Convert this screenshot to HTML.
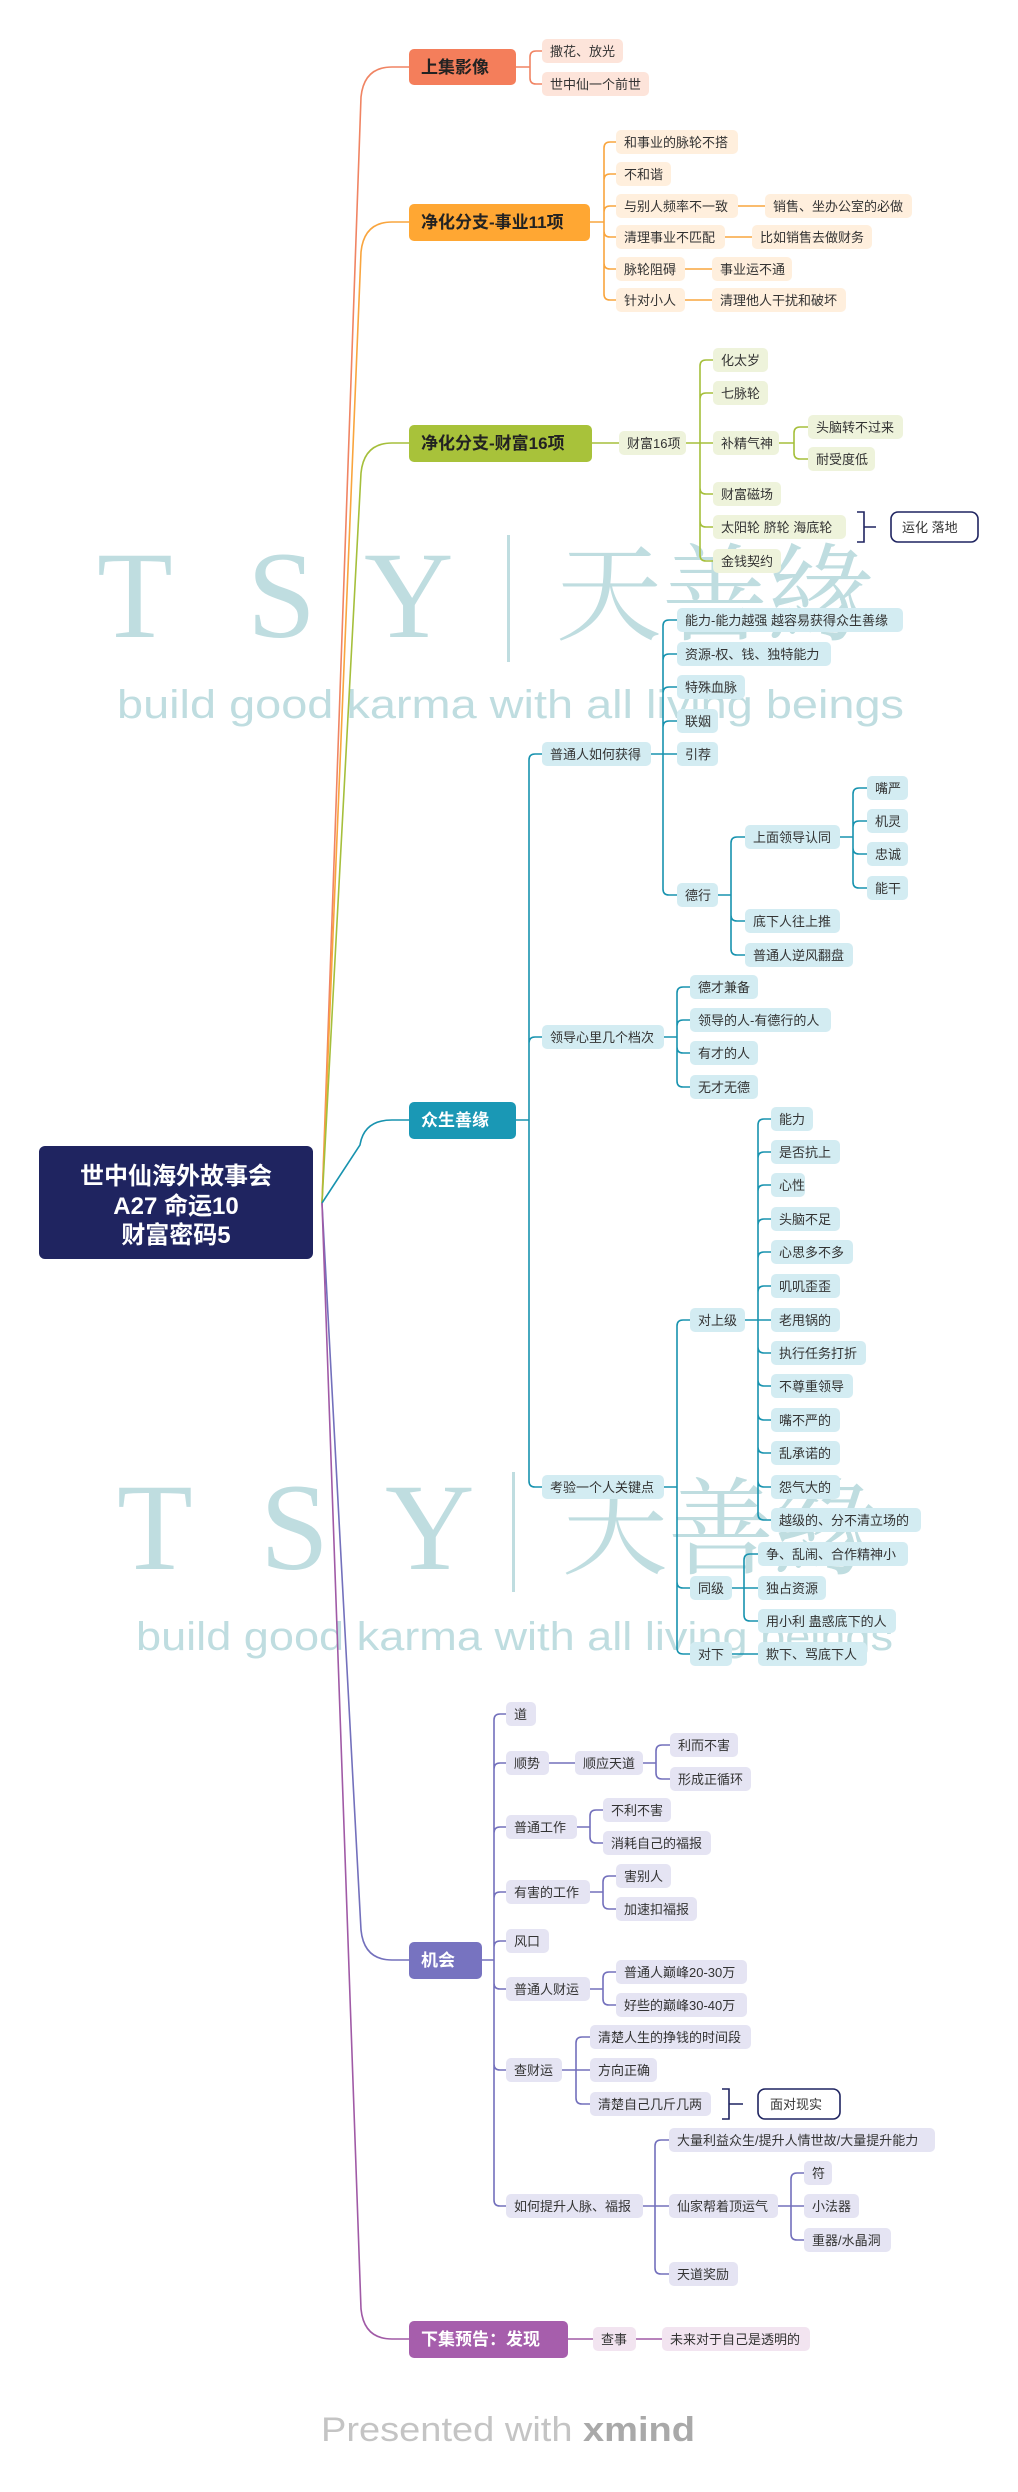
<!DOCTYPE html>
<html><head><meta charset="utf-8"><style>
html,body{margin:0;padding:0;background:#fff;}
svg{display:block;}
text{font-family:"Liberation Sans","Noto Sans CJK SC",sans-serif;}
.c{font-size:13px;fill:#333;}
.m{font-size:17px;font-weight:bold;}
.wm{fill:#bfdde0;}
</style></head><body>
<svg width="1018" height="2492" viewBox="0 0 1018 2492" xmlns="http://www.w3.org/2000/svg">
<!-- watermarks -->
<g class="wm">
<text x="97" y="637" style="font-family:'Liberation Serif',serif;font-size:124px">T</text>
<text x="247" y="637" style="font-family:'Liberation Serif',serif;font-size:124px">S</text>
<text x="364" y="637" style="font-family:'Liberation Serif',serif;font-size:124px">Y</text>
<rect x="507" y="535" width="3" height="127"/>
<text x="556" y="632" style="font-family:'Noto Serif CJK SC',serif;font-size:106px">天善緣</text>
<text x="117" y="718" textLength="787" lengthAdjust="spacingAndGlyphs" style="font-size:40px">build good karma with all living beings</text>
<text x="117" y="1569" style="font-family:'Liberation Serif',serif;font-size:124px">T</text>
<text x="260" y="1569" style="font-family:'Liberation Serif',serif;font-size:124px">S</text>
<text x="385" y="1569" style="font-family:'Liberation Serif',serif;font-size:124px">Y</text>
<rect x="512" y="1472" width="3" height="120"/>
<text x="562" y="1566" style="font-family:'Noto Serif CJK SC',serif;font-size:106px">天善緣</text>
<text x="136" y="1650" textLength="757" lengthAdjust="spacingAndGlyphs" style="font-size:40px">build good karma with all living beings</text>
</g>

<g fill="none" stroke-width="1.6">
<!-- trunk -->
<path stroke="#F08463" d="M322 1203 L361 97 Q364 67 392 67 H409"/>
<path stroke="#F9A53E" d="M322 1203 L361 252 Q364 222 392 222 H409"/>
<path stroke="#A5BF3B" d="M322 1203 L361 473 Q364 443 392 443 H409"/>
<path stroke="#1893AF" d="M322 1203 L360 1145 Q364 1120 392 1120 H409"/>
<path stroke="#7370BC" d="M322 1203 L361 1930 Q364 1960 392 1960 H409"/>
<path stroke="#A05AA6" d="M322 1203 L361 2309 Q364 2339 392 2339 H409"/>

<path stroke="#F08463" d="M516 67 H530 M530 67 V57 Q530 51 536 51 H542 M530 67 V78 Q530 84 536 84 H542"/>

<path stroke="#F9A53E" d="M590 222 H604 M604 222 V148 Q604 142 610 142 H616 M604 222 V180 Q604 174 610 174 H616 M604 222 V212 Q604 206 610 206 H616 M604 222 V231 Q604 237 610 237 H616 M604 222 V263 Q604 269 610 269 H616 M604 222 V294 Q604 300 610 300 H616 M738 206 H765 M725 237 H752 M685 269 H712 M685 300 H712"/>

<path stroke="#A5BF3B" d="M592 443 H619 M686 443 H700 M700 443 V366 Q700 360 706 360 H713 M700 443 V399 Q700 393 706 393 H713 M700 443 H713 M700 443 V488 Q700 494 706 494 H713 M700 443 V521 Q700 527 706 527 H713 M700 443 V555 Q700 561 706 561 H713 M779 443 H794 M794 443 V433 Q794 427 800 427 H808 M794 443 V453 Q794 459 800 459 H808"/>

<path stroke="#1893AF" d="M516 1120 H529 M529 1120 V760 Q529 754 535 754 H542 M529 1120 V1043 Q529 1037 535 1037 H542 M529 1120 V1481 Q529 1487 535 1487 H542
M651 754 H663 M663 754 V626 Q663 620 669 620 H677 M663 754 V660 Q663 654 669 654 H677 M663 754 V693 Q663 687 669 687 H677 M663 754 V727 Q663 721 669 721 H677 M663 754 H677 M663 754 V889 Q663 895 669 895 H677
M718 895 H731 M731 895 V843 Q731 837 737 837 H745 M731 895 V915 Q731 921 737 921 H745 M731 895 V949 Q731 955 737 955 H745
M840 837 H853 M853 837 V794 Q853 788 859 788 H867 M853 837 V827 Q853 821 859 821 H867 M853 837 V848 Q853 854 859 854 H867 M853 837 V882 Q853 888 859 888 H867
M664 1037 H677 M677 1037 V993 Q677 987 683 987 H690 M677 1037 V1026 Q677 1020 683 1020 H690 M677 1037 V1047 Q677 1053 683 1053 H690 M677 1037 V1081 Q677 1087 683 1087 H690
M664 1487 H677 M677 1487 V1326 Q677 1320 683 1320 H690 M677 1487 V1582 Q677 1588 683 1588 H690 M677 1487 V1648 Q677 1654 683 1654 H690
M745 1320 H758 M758 1320 V1125 Q758 1119 764 1119 H771 M758 1320 V1158 Q758 1152 764 1152 H771 M758 1320 V1191 Q758 1185 764 1185 H771 M758 1320 V1225 Q758 1219 764 1219 H771 M758 1320 V1258 Q758 1252 764 1252 H771 M758 1320 V1292 Q758 1286 764 1286 H771 M758 1320 H771 M758 1320 V1347 Q758 1353 764 1353 H771 M758 1320 V1380 Q758 1386 764 1386 H771 M758 1320 V1414 Q758 1420 764 1420 H771 M758 1320 V1447 Q758 1453 764 1453 H771 M758 1320 V1481 Q758 1487 764 1487 H771 M758 1320 V1514 Q758 1520 764 1520 H771
M732 1588 H744 M744 1588 V1560 Q744 1554 750 1554 H758 M744 1588 H758 M744 1588 V1615 Q744 1621 750 1621 H758 M732 1654 H758"/>

<path stroke="#7370BC" d="M482 1960 H494 M494 1960 V1720 Q494 1714 500 1714 H506 M494 1960 V1769 Q494 1763 500 1763 H506 M494 1960 V1833 Q494 1827 500 1827 H506 M494 1960 V1898 Q494 1892 500 1892 H506 M494 1960 V1947 Q494 1941 500 1941 H506 M494 1960 V1983 Q494 1989 500 1989 H506 M494 1960 V2064 Q494 2070 500 2070 H506 M494 1960 V2200 Q494 2206 500 2206 H506
M549 1763 H575 M643 1763 H656 M656 1763 V1751 Q656 1745 662 1745 H670 M656 1763 V1773 Q656 1779 662 1779 H670
M577 1827 H590 M590 1827 V1816 Q590 1810 596 1810 H603 M590 1827 V1837 Q590 1843 596 1843 H603
M590 1892 H603 M603 1892 V1882 Q603 1876 609 1876 H616 M603 1892 V1903 Q603 1909 609 1909 H616
M590 1989 H603 M603 1989 V1978 Q603 1972 609 1972 H616 M603 1989 V1999 Q603 2005 609 2005 H616
M562 2070 H576 M576 2070 V2043 Q576 2037 582 2037 H590 M576 2070 H590 M576 2070 V2098 Q576 2104 582 2104 H590
M643 2206 H655 M655 2206 V2146 Q655 2140 661 2140 H669 M655 2206 H669 M655 2206 V2268 Q655 2274 661 2274 H669
M778 2206 H791 M791 2206 V2179 Q791 2173 797 2173 H804 M791 2206 H804 M791 2206 V2234 Q791 2240 797 2240 H804"/>

<path stroke="#A05AA6" d="M568 2339 H593 M636 2339 H662"/>
<path stroke="#1F2460" d="M857 512 H864 V542 H857 M864 527 H876 M722 2089 H729 V2119 H722 M729 2104 H743"/>
</g>

<!-- root -->
<rect x="39" y="1146" width="274" height="113" rx="6" fill="#1F2460"/>
<g fill="#fff" font-size="24" text-anchor="middle" font-weight="bold">
<text x="176" y="1184">世中仙海外故事会</text>
<text x="176" y="1214">A27 命运10</text>
<text x="176" y="1243">财富密码5</text>
</g>

<!-- main nodes -->
<rect x="409" y="49" width="107" height="36" rx="5" fill="#F47E5B"/><text class="m" x="421" y="73" fill="#222">上集影像</text>
<rect x="409" y="204" width="181" height="37" rx="5" fill="#FFA733"/><text class="m" x="421" y="228" fill="#222">净化分支-事业11项</text>
<rect x="409" y="425" width="183" height="37" rx="5" fill="#A8C23A"/><text class="m" x="421" y="449" fill="#222">净化分支-财富16项</text>
<rect x="409" y="1102" width="107" height="37" rx="5" fill="#1A98B5"/><text class="m" x="421" y="1126" fill="#fff">众生善缘</text>
<rect x="409" y="1942" width="73" height="37" rx="5" fill="#7773C0"/><text class="m" x="421" y="1966" fill="#fff">机会</text>
<rect x="409" y="2321" width="159" height="37" rx="5" fill="#A65EAC"/><text class="m" x="421" y="2345" fill="#fff">下集预告：发现</text>

<!-- 上集 children -->
<g fill="#FDE4DA">
<rect x="542" y="39" width="81" height="24" rx="5"/><rect x="542" y="72" width="107" height="24" rx="5"/>
</g>
<g class="c"><text x="550" y="56">撒花、放光</text><text x="550" y="89">世中仙一个前世</text></g>

<!-- 事业 -->
<g fill="#FFEFDD">
<rect x="616" y="130" width="122" height="24" rx="5"/><rect x="616" y="162" width="55" height="24" rx="5"/>
<rect x="616" y="194" width="122" height="24" rx="5"/><rect x="616" y="225" width="109" height="24" rx="5"/>
<rect x="616" y="257" width="69" height="24" rx="5"/><rect x="616" y="288" width="69" height="24" rx="5"/>
<rect x="765" y="194" width="147" height="24" rx="5"/><rect x="752" y="225" width="120" height="24" rx="5"/>
<rect x="712" y="257" width="80" height="24" rx="5"/><rect x="712" y="288" width="134" height="24" rx="5"/>
</g>
<g class="c">
<text x="624" y="147">和事业的脉轮不搭</text><text x="624" y="179">不和谐</text><text x="624" y="211">与别人频率不一致</text>
<text x="624" y="242">清理事业不匹配</text><text x="624" y="274">脉轮阻碍</text><text x="624" y="305">针对小人</text>
<text x="773" y="211">销售、坐办公室的必做</text><text x="760" y="242">比如销售去做财务</text>
<text x="720" y="274">事业运不通</text><text x="720" y="305">清理他人干扰和破坏</text>
</g>

<!-- 财富 -->
<g fill="#EEF3DB">
<rect x="619" y="431" width="67" height="24" rx="5"/>
<rect x="713" y="348" width="55" height="24" rx="5"/><rect x="713" y="381" width="55" height="24" rx="5"/>
<rect x="713" y="431" width="66" height="24" rx="5"/><rect x="713" y="482" width="68" height="24" rx="5"/>
<rect x="713" y="515" width="133" height="24" rx="5"/><rect x="713" y="549" width="68" height="24" rx="5"/>
<rect x="808" y="415" width="95" height="24" rx="5"/><rect x="808" y="447" width="67" height="24" rx="5"/>
</g>
<g class="c">
<text x="627" y="448">财富16项</text>
<text x="721" y="365">化太岁</text><text x="721" y="398">七脉轮</text><text x="721" y="448">补精气神</text>
<text x="721" y="499">财富磁场</text><text x="721" y="532">太阳轮 脐轮 海底轮</text><text x="721" y="566">金钱契约</text>
<text x="816" y="432">头脑转不过来</text><text x="816" y="464">耐受度低</text>
</g>
<rect x="891" y="512" width="87" height="30" rx="7" fill="#fff" stroke="#1F2460" stroke-width="1.6"/>
<text class="c" x="902" y="532">运化 落地</text>

<!-- 众生 -->
<g fill="#D3ECF2">
<rect x="542" y="742" width="109" height="24" rx="5"/><rect x="542" y="1025" width="122" height="24" rx="5"/><rect x="542" y="1475" width="122" height="24" rx="5"/>
<rect x="677" y="608" width="226" height="24" rx="5"/><rect x="677" y="642" width="154" height="24" rx="5"/>
<rect x="677" y="675" width="68" height="24" rx="5"/><rect x="677" y="709" width="41" height="24" rx="5"/>
<rect x="677" y="742" width="41" height="24" rx="5"/><rect x="677" y="883" width="41" height="24" rx="5"/>
<rect x="745" y="825" width="95" height="24" rx="5"/><rect x="745" y="909" width="95" height="24" rx="5"/><rect x="745" y="943" width="108" height="24" rx="5"/>
<rect x="867" y="776" width="41" height="24" rx="5"/><rect x="867" y="809" width="41" height="24" rx="5"/>
<rect x="867" y="842" width="41" height="24" rx="5"/><rect x="867" y="876" width="41" height="24" rx="5"/>
<rect x="690" y="975" width="68" height="24" rx="5"/><rect x="690" y="1008" width="141" height="24" rx="5"/>
<rect x="690" y="1041" width="68" height="24" rx="5"/><rect x="690" y="1075" width="68" height="24" rx="5"/>
<rect x="690" y="1308" width="55" height="24" rx="5"/><rect x="690" y="1576" width="42" height="24" rx="5"/><rect x="690" y="1642" width="42" height="24" rx="5"/>
<rect x="771" y="1107" width="42" height="24" rx="5"/><rect x="771" y="1140" width="69" height="24" rx="5"/>
<rect x="771" y="1173" width="34" height="24" rx="5"/><rect x="771" y="1207" width="69" height="24" rx="5"/>
<rect x="771" y="1240" width="82" height="24" rx="5"/><rect x="771" y="1274" width="69" height="24" rx="5"/>
<rect x="771" y="1308" width="69" height="24" rx="5"/><rect x="771" y="1341" width="95" height="24" rx="5"/>
<rect x="771" y="1374" width="82" height="24" rx="5"/><rect x="771" y="1408" width="69" height="24" rx="5"/>
<rect x="771" y="1441" width="69" height="24" rx="5"/><rect x="771" y="1475" width="69" height="24" rx="5"/>
<rect x="771" y="1508" width="150" height="24" rx="5"/>
<rect x="758" y="1542" width="150" height="24" rx="5"/><rect x="758" y="1576" width="68" height="24" rx="5"/>
<rect x="758" y="1609" width="138" height="24" rx="5"/><rect x="758" y="1642" width="109" height="24" rx="5"/>
</g>
<g class="c">
<text x="550" y="759">普通人如何获得</text><text x="550" y="1042">领导心里几个档次</text><text x="550" y="1492">考验一个人关键点</text>
<text x="685" y="625">能力-能力越强 越容易获得众生善缘</text><text x="685" y="659">资源-权、钱、独特能力</text>
<text x="685" y="692">特殊血脉</text><text x="685" y="726">联姻</text><text x="685" y="759">引荐</text><text x="685" y="900">德行</text>
<text x="753" y="842">上面领导认同</text><text x="753" y="926">底下人往上推</text><text x="753" y="960">普通人逆风翻盘</text>
<text x="875" y="793">嘴严</text><text x="875" y="826">机灵</text><text x="875" y="859">忠诚</text><text x="875" y="893">能干</text>
<text x="698" y="992">德才兼备</text><text x="698" y="1025">领导的人-有德行的人</text><text x="698" y="1058">有才的人</text><text x="698" y="1092">无才无德</text>
<text x="698" y="1325">对上级</text><text x="698" y="1593">同级</text><text x="698" y="1659">对下</text>
<text x="779" y="1124">能力</text><text x="779" y="1157">是否抗上</text><text x="779" y="1190">心性</text>
<text x="779" y="1224">头脑不足</text><text x="779" y="1257">心思多不多</text><text x="779" y="1291">叽叽歪歪</text>
<text x="779" y="1325">老甩锅的</text><text x="779" y="1358">执行任务打折</text><text x="779" y="1391">不尊重领导</text>
<text x="779" y="1425">嘴不严的</text><text x="779" y="1458">乱承诺的</text><text x="779" y="1492">怨气大的</text>
<text x="779" y="1525">越级的、分不清立场的</text>
<text x="766" y="1559">争、乱闹、合作精神小</text><text x="766" y="1593">独占资源</text>
<text x="766" y="1626">用小利 蛊惑底下的人</text><text x="766" y="1659">欺下、骂底下人</text>
</g>

<!-- 机会 -->
<g fill="#E5E4F3">
<rect x="506" y="1702" width="30" height="24" rx="5"/><rect x="506" y="1751" width="43" height="24" rx="5"/>
<rect x="506" y="1815" width="71" height="24" rx="5"/><rect x="506" y="1880" width="84" height="24" rx="5"/>
<rect x="506" y="1929" width="43" height="24" rx="5"/><rect x="506" y="1977" width="84" height="24" rx="5"/>
<rect x="506" y="2058" width="56" height="24" rx="5"/><rect x="506" y="2194" width="137" height="24" rx="5"/>
<rect x="575" y="1751" width="68" height="24" rx="5"/><rect x="670" y="1733" width="68" height="24" rx="5"/><rect x="670" y="1767" width="81" height="24" rx="5"/>
<rect x="603" y="1798" width="68" height="24" rx="5"/><rect x="603" y="1831" width="108" height="24" rx="5"/>
<rect x="616" y="1864" width="55" height="24" rx="5"/><rect x="616" y="1897" width="81" height="24" rx="5"/>
<rect x="616" y="1960" width="131" height="24" rx="5"/><rect x="616" y="1993" width="131" height="24" rx="5"/>
<rect x="590" y="2025" width="161" height="24" rx="5"/><rect x="590" y="2058" width="67" height="24" rx="5"/><rect x="590" y="2092" width="121" height="24" rx="5"/>
<rect x="669" y="2128" width="266" height="24" rx="5"/><rect x="669" y="2194" width="109" height="24" rx="5"/><rect x="669" y="2262" width="69" height="24" rx="5"/>
<rect x="804" y="2161" width="28" height="24" rx="5"/><rect x="804" y="2194" width="55" height="24" rx="5"/><rect x="804" y="2228" width="87" height="24" rx="5"/>
</g>
<g class="c">
<text x="514" y="1719">道</text><text x="514" y="1768">顺势</text><text x="514" y="1832">普通工作</text><text x="514" y="1897">有害的工作</text>
<text x="514" y="1946">风口</text><text x="514" y="1994">普通人财运</text><text x="514" y="2075">查财运</text><text x="514" y="2211">如何提升人脉、福报</text>
<text x="583" y="1768">顺应天道</text><text x="678" y="1750">利而不害</text><text x="678" y="1784">形成正循环</text>
<text x="611" y="1815">不利不害</text><text x="611" y="1848">消耗自己的福报</text>
<text x="624" y="1881">害别人</text><text x="624" y="1914">加速扣福报</text>
<text x="624" y="1977">普通人巅峰20-30万</text><text x="624" y="2010">好些的巅峰30-40万</text>
<text x="598" y="2042">清楚人生的挣钱的时间段</text><text x="598" y="2075">方向正确</text><text x="598" y="2109">清楚自己几斤几两</text>
<text x="677" y="2145">大量利益众生/提升人情世故/大量提升能力</text><text x="677" y="2211">仙家帮着顶运气</text><text x="677" y="2279">天道奖励</text>
<text x="812" y="2178">符</text><text x="812" y="2211">小法器</text><text x="812" y="2245">重器/水晶洞</text>
</g>
<rect x="758" y="2089" width="82" height="30" rx="7" fill="#fff" stroke="#1F2460" stroke-width="1.6"/>
<text class="c" x="770" y="2109">面对现实</text>

<!-- 下集 -->
<g fill="#F2E4F0"><rect x="593" y="2327" width="43" height="24" rx="5"/><rect x="662" y="2327" width="148" height="24" rx="5"/></g>
<g class="c"><text x="601" y="2344">查事</text><text x="670" y="2344">未来对于自己是透明的</text></g>

<text x="321" y="2441" font-size="34" fill="#c4c4c4" textLength="374" lengthAdjust="spacingAndGlyphs">Presented with <tspan font-weight="bold" fill="#a9a9a9">xmind</tspan></text>
</svg>
</body></html>
